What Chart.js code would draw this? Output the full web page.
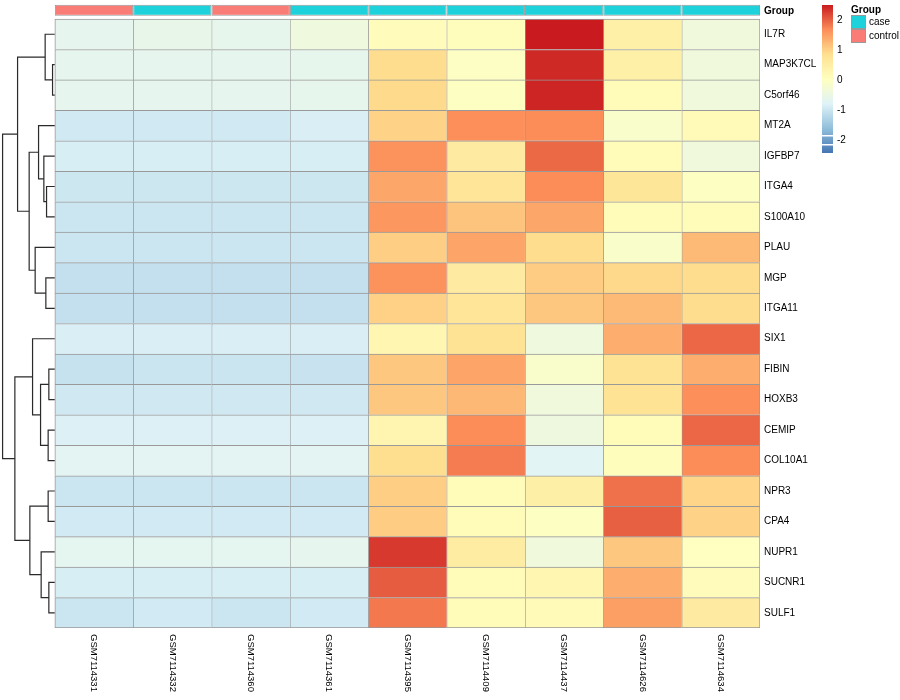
<!DOCTYPE html>
<html>
<head>
<meta charset="utf-8">
<title>Gene heatmap</title>
<script src="https://cdn.jsdelivr.net/npm/chart.js"></script>
<style>
  body { margin: 0; background: #fff; }
  canvas { display: block; }
</style>
</head>
<body>
<canvas id="heatmap" width="900" height="700"></canvas>
<script>
const samples = ['GSM7114331', 'GSM7114332', 'GSM7114360', 'GSM7114361', 'GSM7114395',
                 'GSM7114409', 'GSM7114437', 'GSM7114626', 'GSM7114634'];
const groups = ['control', 'case', 'control', 'case', 'case', 'case', 'case', 'case', 'case'];
const genes = ['IL7R', 'MAP3K7CL', 'C5orf46', 'MT2A', 'IGFBP7', 'ITGA4', 'S100A10', 'PLAU', 'MGP',
               'ITGA11', 'SIX1', 'FIBIN', 'HOXB3', 'CEMIP', 'COL10A1', 'NPR3', 'CPA4', 'NUPR1',
               'SUCNR1', 'SULF1'];

// row-scaled expression, one row per gene, columns in sample order
const zscores = [
  [-0.62, -0.55, -0.60, -0.38, 0.12, 0.10, 2.52, 0.45, -0.35],
  [-0.62, -0.62, -0.62, -0.60, 0.90, -0.02, 2.42, 0.45, -0.35],
  [-0.62, -0.62, -0.62, -0.60, 0.93, 0.00, 2.45, 0.15, -0.35],
  [-0.93, -0.93, -0.93, -0.85, 1.00, 1.68, 1.70, -0.12, 0.18],
  [-0.86, -0.86, -0.86, -0.86, 1.65, 0.60, 1.96, 0.15, -0.35],
  [-0.97, -0.97, -0.97, -0.97, 1.45, 0.75, 1.70, 0.72, 0.00],
  [-0.98, -0.98, -0.98, -0.98, 1.60, 1.15, 1.45, 0.15, 0.15],
  [-0.98, -0.98, -0.98, -0.98, 1.05, 1.47, 0.90, -0.10, 1.25],
  [-1.07, -1.07, -1.07, -1.07, 1.65, 0.60, 1.07, 0.95, 0.90],
  [-1.07, -1.07, -1.07, -1.07, 1.02, 0.75, 1.12, 1.25, 0.90],
  [-0.85, -0.85, -0.85, -0.85, 0.30, 0.80, -0.38, 1.38, 1.97],
  [-1.05, -1.00, -1.00, -1.02, 1.12, 1.47, -0.12, 0.80, 1.37],
  [-0.94, -0.94, -0.94, -0.94, 1.12, 1.27, -0.35, 0.80, 1.68],
  [-0.82, -0.82, -0.82, -0.82, 0.32, 1.70, -0.40, 0.15, 1.97],
  [-0.70, -0.70, -0.70, -0.70, 0.88, 1.82, -0.72, 0.10, 1.70],
  [-0.98, -0.98, -0.98, -0.98, 1.05, 0.15, 0.48, 1.90, 0.98],
  [-0.92, -0.92, -0.92, -0.92, 1.07, 0.15, 0.00, 2.02, 1.00],
  [-0.65, -0.65, -0.65, -0.62, 2.30, 0.55, -0.35, 1.12, 0.02],
  [-0.86, -0.86, -0.86, -0.86, 2.05, 0.15, 0.30, 1.37, 0.12],
  [-0.98, -0.92, -0.98, -0.92, 1.85, 0.15, 0.18, 1.52, 0.57]
];

// row clustering, hclust style: negative = gene (1-based, display order), positive = earlier merge
const merges = [
  [-2, -3], [-12, -13], [-19, -20], [-14, -15], [-16, -17], [-6, -7], [-9, -10],
  [-1, 1], [-5, 6], [-18, 3], [2, 4], [-4, 9], [-8, 7], [-11, 11], [5, 10],
  [12, 13], [8, 16], [14, 15], [17, 18]
];
const mergeHeights = [2.3, 6.0, 6.0, 6.7, 6.7, 8.3, 9.0, 9.7, 11.0, 13.7, 14.3, 16.3, 19.7,
                      22.3, 25.0, 25.7, 37.3, 40.0, 52.3];

const legendTicks = [2, 1, 0, -1, -2];
const breakMin = -2.42;
const breakMax = 2.52;

const palette = ['#4575B4', '#91BFDB', '#E0F3F8', '#FFFFBF', '#FEE090', '#FC8D59', '#C91B1F'];
const groupColors = { case: '#1DD2DA', control: '#F97C76' };
const FONT = '"Liberation Sans", Arial, Helvetica, sans-serif';

function hexRgb(h) {
  return [1, 3, 5].map(i => parseInt(h.slice(i, i + 2), 16));
}
const paletteRgb = palette.map(hexRgb);

function colorFor(v) {
  let t = (v - breakMin) / (breakMax - breakMin);
  t = Math.max(0, Math.min(1, t)) * (palette.length - 1);
  const i = Math.min(Math.floor(t), palette.length - 2);
  const f = t - i;
  const a = paletteRgb[i], b = paletteRgb[i + 1];
  const c = a.map((x, k) => Math.round(x + (b[k] - x) * f));
  return `rgb(${c[0]},${c[1]},${c[2]})`;
}

// dendrogram geometry from the merge table
const treeSpan = 0.667;   // in column units, left of the heatmap
function hToX(h) { return -h / mergeHeights[mergeHeights.length - 1] * treeSpan; }

const nodes = [];
function nodeOf(ref) {
  return ref < 0 ? { y: -ref - 1, h: 0 } : nodes[ref - 1];
}
const treeSets = merges.map((m, i) => {
  const a = nodeOf(m[0]), b = nodeOf(m[1]);
  const h = mergeHeights[i];
  nodes.push({ y: (a.y + b.y) / 2, h: h });
  return {
    type: 'line',
    data: [
      { x: hToX(a.h), y: a.y }, { x: hToX(h), y: a.y },
      { x: hToX(h), y: b.y }, { x: hToX(b.h), y: b.y }
    ],
    borderColor: '#2a2a2a',
    borderWidth: 1.2,
    pointRadius: 0,
    tension: 0,
    fill: false
  };
});

const annotY = -0.79;

const cellSets = samples.map((s, c) => ({
  type: 'bar',
  indexAxis: 'y',
  grouped: false,
  barPercentage: 1,
  categoryPercentage: 1,
  data: genes.map((g, r) => ({ x: [c, c + 1], y: r })),
  backgroundColor: ctx => colorFor(zscores[ctx.dataIndex][c]),
  borderColor: '#999999',
  borderSkipped: false,
  borderWidth: ctx => ({ top: 1, left: 1, right: c === samples.length - 1 ? 1 : 0,
                         bottom: ctx.dataIndex === genes.length - 1 ? 1 : 0 })
}));

const annotSet = {
  type: 'bar',
  indexAxis: 'y',
  yAxisID: 'y2',
  grouped: false,
  barThickness: 11,
  inflateAmount: 0,
  data: samples.map((s, c) => ({ x: [c, c + 1], y: annotY })),
  backgroundColor: groups.map(g => groupColors[g]),
  borderColor: '#999999',
  borderSkipped: false,
  borderWidth: 1
};

const heatmapText = {
  id: 'heatmapText',
  afterDraw(chart) {
    const { ctx, chartArea, scales } = chart;
    ctx.save();
    ctx.fillStyle = '#000';
    ctx.textAlign = 'left';
    ctx.textBaseline = 'middle';

    // column names, reading downwards
    ctx.font = '9.5px ' + FONT;
    samples.forEach((s, c) => {
      ctx.save();
      ctx.translate(scales.x.getPixelForValue(c + 0.5), chartArea.bottom + 6);
      ctx.rotate(Math.PI / 2);
      ctx.fillText(s, 0, 0);
      ctx.restore();
    });

    // annotation row name
    ctx.font = 'bold 10px ' + FONT;
    ctx.fillText('Group', chartArea.right + 4, scales.y2.getPixelForValue(annotY) + 1);

    // colour key
    const kx = 822, kw = 11, top = 5, bottom = 153;
    const vToY = v => top + (breakMax - v) / (breakMax - breakMin) * (bottom - top);
    for (let py = top; py < bottom; py++) {
      const v = breakMax - (py + 0.5 - top) / (bottom - top) * (breakMax - breakMin);
      ctx.fillStyle = colorFor(v);
      ctx.fillRect(kx, py, kw, 1);
    }
    ctx.fillStyle = '#fff';
    ctx.fillRect(kx, 135, kw, 1.5);
    ctx.fillRect(kx, 144, kw, 1.5);
    ctx.fillStyle = '#000';
    ctx.font = '10px ' + FONT;
    legendTicks.forEach(t => ctx.fillText(String(t), kx + 15, vToY(t)));

    // group legend
    const gx = 851;
    ctx.font = 'bold 10px ' + FONT;
    ctx.fillText('Group', gx, 10);
    ctx.font = '10px ' + FONT;
    ['case', 'control'].forEach((g, i) => {
      const y0 = 15 + i * 14;
      ctx.fillStyle = groupColors[g];
      ctx.fillRect(gx, y0, 15, 14);
      ctx.strokeStyle = '#999999';
      ctx.lineWidth = 1;
      ctx.strokeRect(gx + 0.5, y0 + 0.5, 14, 13);
      ctx.fillStyle = '#000';
      ctx.fillText(g, gx + 18, y0 + 7);
    });
    ctx.restore();
  }
};

new Chart(document.getElementById('heatmap'), {
  type: 'bar',
  data: { datasets: [...cellSets, annotSet, ...treeSets] },
  options: {
    responsive: false,
    animation: false,
    events: [],
    layout: { padding: 0 },
    plugins: { legend: { display: false }, tooltip: { enabled: false } },
    scales: {
      x: {
        type: 'linear',
        offset: false,
        min: -0.7,
        max: samples.length,
        grid: { display: false },
        border: { display: false },
        ticks: { display: false },
        afterFit(scale) { scale.height = 72; }
      },
      y: {
        type: 'linear',
        offset: false,
        position: 'right',
        reverse: true,
        min: -1.125,
        max: genes.length - 0.5,
        grid: { display: false, drawTicks: false },
        border: { display: false },
        afterBuildTicks(scale) { scale.ticks = genes.map((g, i) => ({ value: i })); },
        ticks: {
          autoSkip: false,
          padding: 4,
          color: '#000',
          font: { size: 10, family: FONT },
          callback: v => genes[v]
        },
        afterFit(scale) {
          scale.width = 140;
          scale.paddingTop = 0;
          scale.paddingBottom = 0;
        }
      },
      y2: {
        type: 'linear',
        offset: false,
        display: false,
        reverse: true,
        min: -1.125,
        max: genes.length - 0.5
      }
    }
  },
  plugins: [heatmapText]
});
</script>
</body>
</html>
